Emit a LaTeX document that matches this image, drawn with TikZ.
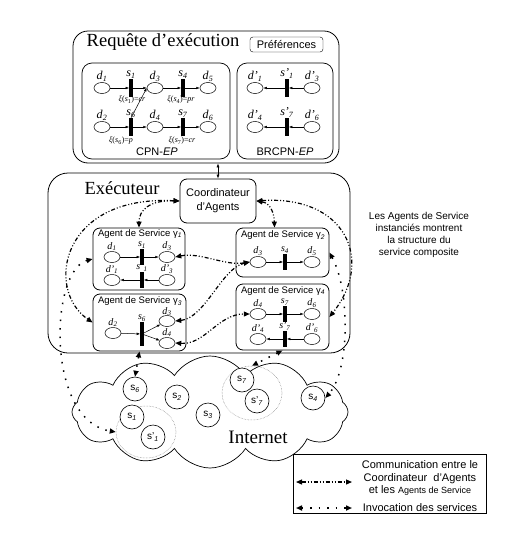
\documentclass[tikz,border=0pt]{standalone}
\usepackage{fontspec}
\setmainfont{Liberation Serif}
\setsansfont{Liberation Sans}
\usepackage{tikz}
\usetikzlibrary{arrows.meta,positioning,calc,shapes.geometric,shapes.symbols}
\newcommand{\plab}[2]{\textit{#1}\textsubscript{\textit{#2}}}
\newcommand{\xilab}[3]{\textit{ξ}(\textit{s}\textsubscript{#1})=\textit{#2#3}}
\tikzset{
  bigbox/.style={draw, rounded corners=15pt, line width=0.8pt},
  netbox/.style={draw, rounded corners=10pt, line width=0.7pt},
  agentbox/.style={draw, rounded corners=7pt, line width=0.8pt},
  place/.style={draw, ellipse, minimum width=16pt, minimum height=11pt, inner sep=0pt, line width=0.5pt},
  trans/.style={fill=black, minimum width=3.2pt, minimum height=18pt, inner sep=0pt},
  lab/.style={font=\fontsize{12}{13}\selectfont, inner sep=0.5pt},
  slab/.style={font=\fontsize{10}{11}\selectfont, inner sep=0.5pt},
  xi/.style={font=\fontsize{8}{9}\selectfont, inner sep=0pt},
  arc/.style={-{Latex[length=3.5pt,width=2.6pt]}, line width=0.5pt},
  comm/.style={{Triangle[length=6pt,width=5pt]}-{Triangle[length=6pt,width=5pt]}, line width=1.2pt,
    dash pattern=on 4pt off 2pt on 1pt off 2pt on 1pt off 2pt},
  invoc/.style={{Triangle[length=6pt,width=5pt]}-{Triangle[length=6pt,width=5pt]}, line width=1.5pt,
    dash pattern=on 1.5pt off 7pt},
  service/.style={draw, circle, fill=white, minimum size=24pt, inner sep=0pt, line width=0.6pt,
    font=\sffamily\fontsize{10}{11}\selectfont},
  group/.style={draw, ellipse, densely dotted, line width=0.5pt, gray},
  agtitle/.style={font=\sffamily\fontsize{9.5}{11}\selectfont, inner sep=0pt},
  bigtitle/.style={font=\fontsize{18.5}{20}\selectfont, inner sep=0pt}
}

\begin{document}
\begin{tikzpicture}[x=1pt, y=-1pt]
  \useasboundingbox (0,0) rectangle (522,533);

  % Internet
  \node[cloud, draw, fill=white, cloud puffs=12, cloud puff arc=115, aspect=2.5,
        minimum width=276pt, minimum height=112pt, line width=0.7pt] (net) at (210,412) {};
  \node[font=\fontsize{19}{20}\selectfont] (nettxt) at (258,437) {Internet};
  \node[group, minimum width=60pt, minimum height=52pt] (grp1) at (146,432) {};
  \node[group, minimum width=60pt, minimum height=54pt] (grp7) at (252,393) {};
  \node[service] (sv6) at (135,389) {s\textsubscript{\textit{6}}};
  \node[service] (sv2) at (177,397) {s\textsubscript{\textit{2}}};
  \node[service] (sv3) at (208,415) {s\textsubscript{\textit{3}}};
  \node[service] (sv1) at (132,417) {s\textsubscript{\textit{1}}};
  \node[service] (sv1p) at (153,437) {s'\textsubscript{\textit{1}}};
  \node[service] (sv7) at (242,380) {s\textsubscript{\textit{7}}};
  \node[service] (sv7p) at (257,401) {s'\textsubscript{\textit{7}}};
  \node[service] (sv4) at (313,398) {s\textsubscript{\textit{4}}};

  % Requete d'execution
  \node[bigbox, minimum width=266pt, minimum height=132pt] (req) at (206,97) {};
  \node[bigtitle] (reqtxt) at (163,42) {Requête d'exécution};
  \node[draw, rounded corners=3pt, font=\sffamily\fontsize{11}{12}\selectfont,
        minimum width=73pt, minimum height=15pt, inner sep=0pt] (pref) at (286.5,44.5) {Préférences};
  \node[netbox, minimum width=148pt, minimum height=96pt] (cpn) at (156,111) {};
  \node[font=\sffamily\fontsize{11}{12}\selectfont] (cpntxt) at (157,152) {CPN-\textit{EP}};
  \node[netbox, minimum width=96pt, minimum height=96pt] (brcpn) at (285,111) {};
  \node[font=\sffamily\fontsize{11}{12}\selectfont] (brtxt) at (285,152) {BRCPN-\textit{EP}};

  \node[place, label={[lab]above:\plab{d}{1}}] (d1) at (102,88) {};
  \node[trans, label={[lab]above:\plab{s}{1}}] (s1) at (131,88) {};
  \node[place, label={[lab]above:\plab{d}{3}}] (d3) at (155,88) {};
  \node[trans, label={[lab]above:\plab{s}{4}}] (s4) at (183,88) {};
  \node[place, label={[lab]above:\plab{d}{5}}] (d5) at (208,88) {};
  \node[place, label={[lab]above:\plab{d}{2}}] (d2) at (102,127) {};
  \node[trans, label={[lab]above:\plab{s}{6}}] (s6) at (131,127) {};
  \node[place, label={[lab]above:\plab{d}{4}}] (d4) at (155,127) {};
  \node[trans, label={[lab]above:\plab{s}{7}}] (s7) at (183,127) {};
  \node[place, label={[lab]above:\plab{d}{6}}] (d6) at (208,127) {};
  \draw[arc] (d1) -- (s1);
  \draw[arc] (s1) -- (d3);
  \draw[arc] (d3) -- (s4);
  \draw[arc] (s4) -- (d5);
  \draw[arc] (d2) -- (s6);
  \draw[arc] (s6) -- (d4);
  \draw[arc] (d4) -- (s7);
  \draw[arc] (s7) -- (d6);
  \draw[arc] (s6.north) -- (d3.west);
  \node[xi] (xi1) at (132,100) {\xilab{1}{c}{r}};
  \node[xi] (xi4) at (181,100) {\xilab{4}{p}{r}};
  \node[xi] (xi6) at (121,141) {\xilab{6}{p}{}};
  \node[xi] (xi7) at (182,141) {\xilab{7}{c}{r}};

  \node[place, label={[lab]above:\plab{d'}{1}}] (bd1) at (255,88) {};
  \node[trans, label={[lab]above:\plab{s'}{1}}] (bs1) at (287,88) {};
  \node[place, label={[lab]above:\plab{d'}{3}}] (bd3) at (312,88) {};
  \node[place, label={[lab]above:\plab{d'}{4}}] (bd4) at (255,127) {};
  \node[trans, label={[lab]above:\plab{s'}{7}}] (bs7) at (287,127) {};
  \node[place, label={[lab]above:\plab{d'}{6}}] (bd6) at (312,127) {};
  \draw[arc] (bd3) -- (bs1);
  \draw[arc] (bs1) -- (bd1);
  \draw[arc] (bd6) -- (bs7);
  \draw[arc] (bs7) -- (bd4);

  % Executeur
  \node[bigbox, rounded corners=20pt, minimum width=302pt, minimum height=180pt] (exec) at (199,263) {};
  \node[bigtitle] (exectxt) at (122,188) {Exécuteur};
  \node[draw, rounded corners=7pt, line width=0.8pt, align=center, minimum width=76pt, minimum height=44pt,
        font=\sffamily\fontsize{11}{14}\selectfont] (coord) at (218,201) {Coordinateur\\d'Agents};
  \draw[{Latex[length=4pt,width=3pt]}-{Latex[length=4pt,width=3pt]}, line width=0.6pt]
    (coord.north |- req.south) -- (coord.north);

  % agent gamma 1
  \node[agentbox, minimum width=92pt, minimum height=62pt] (g1) at (139,259) {};
  \node[agtitle] (g1txt) at (140,234) {Agent de Service γ\textsubscript{\textit{1}}};
  \node[place, label={[slab]above:\plab{d}{1}}] (g1d1) at (112,257) {};
  \node[trans, minimum height=16pt, label={[slab]above:\plab{s}{1}}] (g1s1) at (142,257) {};
  \node[place, label={[slab]above:\plab{d}{3}}] (g1d3) at (167,257) {};
  \node[place, label={[slab]above:\plab{d'}{1}}] (g1d1p) at (112,280) {};
  \node[trans, minimum height=16pt, label={[slab]above:\plab{s'}{1}}] (g1s1p) at (142,280) {};
  \node[place, label={[slab]above:\plab{d'}{3}}] (g1d3p) at (167,280) {};
  \draw[arc] (g1d1) -- (g1s1);
  \draw[arc] (g1s1) -- (g1d3);
  \draw[arc] (g1d3p) -- (g1s1p);
  \draw[arc] (g1s1p) -- (g1d1p);

  % agent gamma 3
  \node[agentbox, minimum width=93pt, minimum height=57pt] (g3) at (139.5,322.5) {};
  \node[agtitle] (g3txt) at (140,301) {Agent de Service γ\textsubscript{\textit{3}}};
  \node[place, label={[slab]above:\plab{d}{2}}] (g3d2) at (113,333) {};
  \node[trans, minimum height=24pt, label={[slab]above:\plab{s}{6}}] (g3s6) at (142,334) {};
  \node[place, label={[slab, label distance=-1.5pt]above:\plab{d}{3}}] (g3d3) at (167,321) {};
  \node[place, label={[slab]above:\plab{d}{4}}] (g3d4) at (167,343) {};
  \draw[arc] (g3d2) -- (g3s6);
  \draw[arc] (g3s6) -- (g3d3);
  \draw[arc] (g3s6) -- (g3d4);

  % agent gamma 2
  \node[agentbox, minimum width=93pt, minimum height=49pt] (g2) at (282.5,252.5) {};
  \node[agtitle] (g2txt) at (283,235) {Agent de Service γ\textsubscript{\textit{2}}};
  \node[place, label={[slab]above:\plab{d}{3}}] (g2d3) at (258,262) {};
  \node[trans, minimum height=16pt, label={[slab]above:\plab{s}{4}}] (g2s4) at (285,262) {};
  \node[place, label={[slab]above:\plab{d}{5}}] (g2d5) at (312,262) {};
  \draw[arc] (g2d3) -- (g2s4);
  \draw[arc] (g2s4) -- (g2d5);

  % agent gamma 4
  \node[agentbox, minimum width=93pt, minimum height=66pt] (g4) at (282.5,317) {};
  \node[agtitle] (g4txt) at (283,291) {Agent de Service γ\textsubscript{\textit{4}}};
  \node[place, label={[slab]above:\plab{d}{4}}] (g4d4) at (258,314) {};
  \node[trans, minimum height=16pt, label={[slab]above:\plab{s}{7}}] (g4s7) at (285,314) {};
  \node[place, label={[slab]above:\plab{d}{6}}] (g4d6) at (312,314) {};
  \node[place, label={[slab]above:\plab{d'}{4}}] (g4d4p) at (258,339) {};
  \node[trans, minimum height=16pt, label={[slab]above:\plab{s'}{7}}] (g4s7p) at (285,339) {};
  \node[place, label={[slab]above:\plab{d'}{6}}] (g4d6p) at (312,339) {};
  \draw[arc] (g4d4) -- (g4s7);
  \draw[arc] (g4s7) -- (g4d6);
  \draw[arc] (g4d6p) -- (g4s7p);
  \draw[arc] (g4s7p) -- (g4d4p);

  % communication coordinateur <-> agents
  \draw[comm] (coord.west) .. controls (150,200) and (139,210) .. (g1.north);
  \draw[comm] (coord.west) .. controls (60,195) and (45,290) .. (g3.west);
  \draw[comm] (coord.east) .. controls (270,203) and (274,212) .. ([xshift=-8pt]g2.north);
  \draw[comm] (coord.east) .. controls (345,195) and (375,260) .. (g4.east);
  \draw[comm] (g1d3.east) .. controls (200,252) and (225,266) .. (g2d3.west);
  \draw[comm] (g3d3.east) .. controls (205,318) and (222,268) .. (g2d3.west);
  \draw[comm] (g3d4.east) .. controls (205,345) and (218,314) .. (g4d4.west);

  % invocation des services
  \draw[invoc] (g1.west) .. controls (50,270) and (45,420) .. (grp1.west);
  \draw[invoc] (g3.south) -- (sv6.north);
  \draw[invoc] (g4.south) -- (grp7.north);
  \draw[invoc] (g2.east) .. controls (350,290) and (350,370) .. (sv4.east);

  \node[font=\sffamily\fontsize{10}{12}\selectfont, align=center] (note) at (419,235)
    {Les Agents de Service\\instanciés montrent\\la structure du\\service composite};

  % legende
  \node[draw, line width=0.8pt, minimum width=193pt, minimum height=59pt] (legend) at (389.5,483.5) {};
  \coordinate (lc1) at (296,482);
  \coordinate (lc2) at (352,482);
  \coordinate (li1) at (296,508);
  \coordinate (li2) at (352,508);
  \draw[comm] (lc1) -- (lc2);
  \draw[invoc] (li1) -- (li2);
  \node[font=\sffamily\fontsize{11}{12.5}\selectfont, align=center] (legtxt1) at (420,478)
    {Communication entre le\\Coordinateur~ d'Agents\\et les {\fontsize{9}{10}\selectfont Agents de Service}};
  \node[font=\sffamily\fontsize{11}{12}\selectfont] (legtxt2) at (420,508) {Invocation des services};
\end{tikzpicture}
\end{document}
